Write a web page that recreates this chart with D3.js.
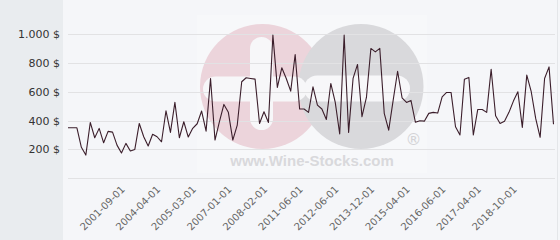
<!DOCTYPE html>
<html>
<head>
<meta charset="utf-8">
<script src="https://cdn.jsdelivr.net/npm/d3@7"></script>
<style>
    html, body { margin: 0; padding: 0; background: #f5f6f9; }
    #sidebar { position: absolute; left: 0; top: 0; width: 63px; height: 240px; background: #e9ecef; }
    #price-chart { position: absolute; left: 0; top: 0; width: 560px; height: 240px; }
</style>
</head>
<body>
<div id="sidebar"></div>
<div id="price-chart"></div>
<script>
// prices per auction, one value per category index
const prices = [
    350, 350, 350, 215, 161, 387, 281, 346, 246, 325,
    320, 230, 175, 242, 189, 200, 380, 288, 224, 305,
    288, 253, 468, 318, 526, 281, 392, 286, 346, 378,
    466, 327, 692, 265, 392, 512, 457, 265, 369, 669,
    697, 692, 687, 380, 461, 387, 992, 630, 766, 692,
    604, 858, 480, 480, 457, 634, 507, 480, 408, 657,
    526, 307, 992, 318, 692, 789, 427, 560, 900, 876,
    900, 450, 334, 540, 742, 558, 526, 540, 388, 399,
    396, 450, 457, 452, 565, 595, 595, 357, 300, 687,
    699, 300, 477, 477, 457, 756, 433, 380, 396, 457,
    535, 600, 353, 715, 600, 415, 284, 692, 772, 374
];

// only every 8th category carries a visible label
const tickIndex = [12, 20, 28, 36, 44, 52, 60, 68, 76, 84, 92, 100];
const tickLabels = [
    "2001-09-01", "2004-04-01", "2005-03-01", "2007-01-01", "2008-02-01", "2011-06-01",
    "2012-06-01", "2013-12-01", "2015-04-01", "2016-06-01", "2017-04-01", "2018-10-01"
];

const yTicks = [0, 200, 400, 600, 800, 1000];

const width = 560, height = 240;
const margin = {top: 34, right: 6.5, bottom: 61.7, left: 68};

const locale = d3.formatLocale({decimal: ",", thousands: ".", grouping: [3], currency: ["", " $"]});
const fmt = locale.format("$,.0f");

const svg = d3.select("#price-chart")
    .append("svg")
    .attr("width", width)
    .attr("height", height);

const xScale = d3.scaleLinear()
    .domain([0, prices.length - 1])
    .range([margin.left, width - margin.right]);

const yScale = d3.scaleLinear()
    .domain([0, 1000])
    .range([height - margin.bottom, margin.top]);

// watermark logo behind the plot
const wm = svg.append("g").attr("class", "watermark");
wm.append("rect")
    .attr("x", 197).attr("y", 15).attr("width", 230).attr("height", 158)
    .attr("fill", "#ffffff").attr("opacity", 0.22);
wm.append("circle").attr("cx", 262.5).attr("cy", 86.5).attr("r", 62.5).attr("fill", "#ecd4db");
wm.append("circle").attr("cx", 361).attr("cy", 86.5).attr("r", 62.5).attr("fill", "#d9d9dc");
wm.append("rect")
    .attr("x", 203).attr("y", 76.5).attr("width", 104).attr("height", 25).attr("rx", 12.5)
    .attr("fill", "#f7f7f9");
wm.append("rect")
    .attr("x", 304).attr("y", 75.5).attr("width", 106).attr("height", 26).attr("rx", 13)
    .attr("fill", "#f7f7f9");
wm.append("rect")
    .attr("x", 250).attr("y", 37).attr("width", 23).attr("height", 93).attr("rx", 11.5)
    .attr("fill", "#f7f7f9");
wm.append("text")
    .attr("x", 312).attr("y", 166)
    .attr("text-anchor", "middle")
    .style("font", "bold 15px 'Liberation Sans', Arial, sans-serif")
    .attr("fill", "#d9d9dc")
    .text("www.Wine-Stocks.com");
wm.append("text")
    .attr("x", 413.5).attr("y", 139)
    .attr("text-anchor", "middle")
    .attr("dominant-baseline", "central")
    .style("font", "16px 'DejaVu Sans', sans-serif")
    .attr("fill", "#d3d3d6")
    .text("\u00AE");

// grid
svg.append("g")
    .selectAll("line")
    .data(yTicks)
    .join("line")
    .attr("x1", margin.left)
    .attr("x2", width - margin.right + 1.5)
    .attr("y1", d => Math.round(yScale(d)) + 0.5)
    .attr("y2", d => Math.round(yScale(d)) + 0.5)
    .attr("stroke", "#e2e2e4")
    .attr("stroke-width", 1);

// y labels
svg.append("g")
    .selectAll("text")
    .data(yTicks.filter(d => d > 0))
    .join("text")
    .attr("x", 60)
    .attr("y", d => yScale(d))
    .attr("dy", "0.36em")
    .attr("text-anchor", "end")
    .style("font", "11px 'DejaVu Sans', sans-serif")
    .attr("fill", "#333333")
    .text(d => fmt(d));

// x labels, rotated
svg.append("g")
    .selectAll("text")
    .data(tickIndex)
    .join("text")
    .attr("text-anchor", "end")
    .attr("transform", d => "translate(" + (xScale(d) + 4) + ",190) rotate(-45)")
    .style("font", "10px 'DejaVu Sans', sans-serif")
    .attr("fill", "#666666")
    .text((d, i) => tickLabels[i]);

const priceLine = d3.line()
    .x((d, i) => xScale(i))
    .y(d => yScale(d));

svg.append("path")
    .datum(prices)
    .attr("d", priceLine)
    .attr("fill", "none")
    .attr("stroke", "#3b1e2b")
    .attr("stroke-width", 1.1)
    .attr("stroke-linejoin", "round");

// right edge border
svg.append("line")
    .attr("x1", 557.5).attr("x2", 557.5).attr("y1", 0).attr("y2", height)
    .attr("stroke", "#e4e6e9");
</script>
</body>
</html>
